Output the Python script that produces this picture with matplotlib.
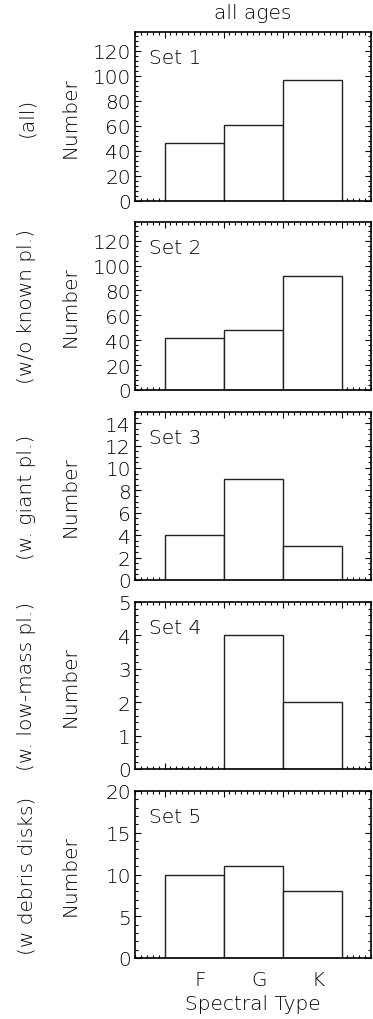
import matplotlib
matplotlib.use("Agg")
import matplotlib.pyplot as plt
from matplotlib.ticker import MultipleLocator, AutoMinorLocator
import numpy as np

plt.rcParams['font.family'] = ['DejaVu Sans']
plt.rcParams['font.weight'] = 'light'

categories = ["F", "G", "K"]
set_names = ["Set 1", "Set 2", "Set 3", "Set 4", "Set 5"]
row_labels = ["(all)", "(w/o known pl.)", "(w. giant pl.)", "(w. low-mass pl.)", "(w debris disks)"]
set1 = [46, 61, 97]
set2 = [42, 48, 92]
set3 = [4, 9, 3]
set4 = [0, 4, 2]
set5 = [10, 11, 8]
values = [set1, set2, set3, set4, set5]
ymax = [135, 135, 15, 5, 20]
ymajor = [20, 20, 2, 1, 5]
yminor = [5, 5, 4, 5, 5]

W, H = 373, 1020
fig = plt.figure(figsize=(W / 100, H / 100), dpi=100)

tops = [33, 223, 413, 603, 792]
bots = [202, 391, 581, 770, 959]
left, right = 135, 371
fs = 14.5

xpos = np.arange(1, len(categories) + 1)
for i in range(5):
    ax = fig.add_axes([left / W, 1 - bots[i] / H, (right - left) / W, (bots[i] - tops[i]) / H])
    ax.bar(xpos, values[i], width=1.0, color="white", edgecolor="#222222", linewidth=1.0, zorder=2)
    ax.set_xlim(0, 4)
    ax.set_ylim(0, ymax[i])
    ax.xaxis.set_major_locator(MultipleLocator(1.0, offset=0.5))
    ax.xaxis.set_minor_locator(MultipleLocator(0.1))
    ax.yaxis.set_major_locator(MultipleLocator(ymajor[i]))
    ax.yaxis.set_minor_locator(AutoMinorLocator(yminor[i]))
    ax.tick_params(which="both", direction="in", top=True, right=True, labelbottom=False, width=0.8)
    ax.tick_params(which="major", length=4.5)
    ax.tick_params(which="minor", length=2)
    ax.tick_params(axis="y", labelsize=fs, pad=3)
    for s in ax.spines.values():
        s.set_linewidth(1.2)
    ax.text(0.06, 0.85, set_names[i], transform=ax.transAxes, fontsize=fs, va="center", ha="left")
    ticks = ax.yaxis.get_major_ticks()
    ticks[0].label1.set_va("bottom")
    cy = 1 - (tops[i] + bots[i]) / 2 / H
    fig.text(70 / W, cy, "Number", rotation=90, ha="center", va="center", fontsize=fs)
    fig.text(27 / W, cy, row_labels[i], rotation=90, ha="center", va="center", fontsize=fs)
    if i == 4:
        for x, c in zip(xpos, categories):
            ax.text(x + 0.1, -0.126, c, transform=ax.get_xaxis_transform(), ha="center", va="center", fontsize=fs)
        fig.text((left + right) / 2 / W, 1 - 1005 / H, "Spectral Type", ha="center", va="center", fontsize=fs)

fig.text((left + right) / 2 / W, 1 - 13.5 / H, "all ages", ha="center", va="center", fontsize=fs)

fig.savefig("out.png", dpi=100)
